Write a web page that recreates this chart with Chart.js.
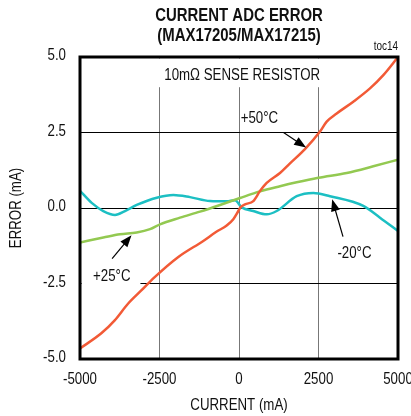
<!DOCTYPE html>
<html>
<head>
<meta charset="utf-8">
<script src="https://cdn.jsdelivr.net/npm/chart.js@4.4.0/dist/chart.umd.min.js"></script>
<style>
  html, body { margin: 0; padding: 0; background: #fff; }
  #wrap { width: 411px; height: 416px; }
</style>
</head>
<body>
<div id="wrap"><canvas id="adc-error" width="411" height="416"></canvas></div>
<script>
// data
const xTicks = [-5000, -2500, 0, 2500, 5000];
const yTicks = [-5.0, -2.5, 0.0, 2.5, 5.0];

// +50°C
const hotX = [-5000, -4330, -3909, -3491, -3072, -2651, -1918, -1123, -701, -387, -179, -22, 53, 189, 450, 660, 871, 1289, 1604, 2075, 2547, 2758, 3072, 3594, 4119, 4538, 5000];
const hotY = [-4.65, -4.15, -3.72, -3.17, -2.73, -2.29, -1.63, -1.09, -0.78, -0.58, -0.37, -0.1, 0.03, 0.12, 0.23, 0.56, 0.83, 1.16, 1.48, 1.95, 2.53, 2.86, 3.13, 3.52, 3.96, 4.4, 5.0];
// +25°C
const roomX = [-5000, -4267, -3742, -3217, -2799, -2484, -1855, -1226, -597, 31, 660, 1289, 1814, 2494, 3387, 4223, 5000];
const roomY = [-1.14, -0.98, -0.87, -0.81, -0.7, -0.54, -0.32, -0.12, 0.1, 0.33, 0.55, 0.72, 0.85, 1.0, 1.16, 1.38, 1.6];
// -20°C
const coldX = [-5000, -4633, -4267, -3899, -3585, -3217, -2587, -2063, -1541, -912, -387, -126, 85, 450, 871, 1185, 1814, 2338, 2862, 3909, 4434, 5000];
const coldY = [0.57, 0.17, -0.1, -0.23, -0.1, 0.1, 0.34, 0.43, 0.36, 0.23, 0.22, 0.26, 0.02, -0.1, -0.21, -0.1, 0.39, 0.5, 0.39, 0.07, -0.32, -0.76];

function pts(xs, ys) {
  return xs.map(function (x, i) { return { x: x, y: ys[i] }; });
}

// no narrow face installed, so squeeze Liberation Sans by hand
const FONT = '"Liberation Sans", Arial, sans-serif';
const SQUEEZE = 0.83;
Chart.defaults.font.family = FONT;
Chart.defaults.font.size = 16;
Chart.defaults.color = "#111";

// labels + arrows, positions in data units
const notes = [
  { text: "+50°C", at: [640, 2.95], from: [1400, 2.5], to: [2110, 2.0] },
  { text: "+25°C", at: [-4000, -2.27], from: [-3990, -1.68], to: [-3380, -0.9] },
  { text: "-20°C", at: [3630, -1.5], from: [3270, -0.95], to: [2930, 0.29] }
];

function narrow(ctx, text, x, y) {
  ctx.save();
  ctx.translate(x, y);
  ctx.scale(SQUEEZE, 1);
  ctx.fillText(text, 0, 0);
  ctx.restore();
}

function arrow(ctx, x1, y1, x2, y2) {
  const a = Math.atan2(y2 - y1, x2 - x1);
  ctx.beginPath();
  ctx.moveTo(x1, y1);
  ctx.lineTo(x2 - 6 * Math.cos(a), y2 - 6 * Math.sin(a));
  ctx.stroke();
  ctx.beginPath();
  ctx.moveTo(x2, y2);
  ctx.lineTo(x2 - 12 * Math.cos(a) + 4.5 * Math.sin(a), y2 - 12 * Math.sin(a) - 4.5 * Math.cos(a));
  ctx.lineTo(x2 - 12 * Math.cos(a) - 4.5 * Math.sin(a), y2 - 12 * Math.sin(a) + 4.5 * Math.cos(a));
  ctx.closePath();
  ctx.fill();
}

const decor = {
  id: "decor",
  beforeDatasetsDraw(chart) {
    const ctx = chart.ctx, xs = chart.scales.x, ys = chart.scales.y;
    ctx.save();
    ctx.fillStyle = "#fff";
    // white boxes behind the notes that break the grid
    ctx.fillRect(xs.getPixelForValue(-2800), ys.getPixelForValue(4.95), xs.getPixelForValue(2900) - xs.getPixelForValue(-2800), ys.getPixelForValue(4.0) - ys.getPixelForValue(4.95));
    ctx.fillRect(xs.getPixelForValue(-4950), ys.getPixelForValue(-1.7), xs.getPixelForValue(-3100) - xs.getPixelForValue(-4950), ys.getPixelForValue(-2.9) - ys.getPixelForValue(-1.7));
    ctx.restore();
  },
  afterDatasetsDraw(chart) {
    const ctx = chart.ctx, xs = chart.scales.x, ys = chart.scales.y, a = chart.chartArea;
    ctx.save();
    ctx.strokeStyle = "#000";
    ctx.lineWidth = 3;
    ctx.strokeRect(a.left, a.top, a.right - a.left, a.bottom - a.top);

    ctx.fillStyle = "#111";
    ctx.textAlign = "center";
    ctx.textBaseline = "middle";
    ctx.font = "16px " + FONT;
    narrow(ctx, "10mΩ SENSE RESISTOR", xs.getPixelForValue(100), ys.getPixelForValue(4.4));

    // tick labels
    xTicks.forEach(function (v) {
      narrow(ctx, String(v), xs.getPixelForValue(v), a.bottom + 21);
    });
    ctx.textAlign = "right";
    yTicks.forEach(function (v) {
      narrow(ctx, v.toFixed(1), a.left - 14, ys.getPixelForValue(v) - 1);
    });
    ctx.textAlign = "center";

    ctx.lineWidth = 1.2;
    ctx.strokeStyle = "#000";
    ctx.fillStyle = "#000";
    notes.forEach(function (n) {
      ctx.fillStyle = "#111";
      narrow(ctx, n.text, xs.getPixelForValue(n.at[0]), ys.getPixelForValue(n.at[1]));
      ctx.fillStyle = "#000";
      arrow(ctx, xs.getPixelForValue(n.from[0]), ys.getPixelForValue(n.from[1]), xs.getPixelForValue(n.to[0]), ys.getPixelForValue(n.to[1]));
    });

    // titles
    ctx.fillStyle = "#111";
    ctx.font = "bold 18px " + FONT;
    narrow(ctx, "CURRENT ADC ERROR", 239, 16);
    narrow(ctx, "(MAX17205/MAX17215)", 239, 36);
    ctx.font = "12px " + FONT;
    ctx.textAlign = "right";
    narrow(ctx, "toc14", a.right, 47);
    ctx.textAlign = "center";
    ctx.font = "16px " + FONT;
    narrow(ctx, "CURRENT (mA)", (a.left + a.right) / 2, 406);
    ctx.translate(17, (a.top + a.bottom) / 2);
    ctx.rotate(-Math.PI / 2);
    narrow(ctx, "ERROR (mA)", 0, 0);
    ctx.restore();
  }
};

const ctx = document.getElementById("adc-error").getContext("2d");
new Chart(ctx, {
  type: "line",
  data: {
    datasets: [
      {
        label: "+50°C",
        data: pts(hotX, hotY),
        borderColor: "#f25a36",
        borderWidth: 2.5,
        pointRadius: 0,
        cubicInterpolationMode: "monotone",
      },
      {
        label: "+25°C",
        data: pts(roomX, roomY),
        borderColor: "#93c951",
        borderWidth: 2.5,
        pointRadius: 0,
        cubicInterpolationMode: "monotone",
      },
      {
        label: "-20°C",
        data: pts(coldX, coldY),
        borderColor: "#1cbfc3",
        borderWidth: 2.5,
        pointRadius: 0,
        cubicInterpolationMode: "monotone",
      },
    ],
  },
  options: {
    responsive: false,
    animation: false,
    layout: { padding: { top: 57, right: 13, left: 0, bottom: 0 } },
    plugins: { legend: { display: false }, tooltip: { enabled: false } },
    scales: {
      x: {
        type: "linear",
        min: -5000,
        max: 5000,
        afterBuildTicks: function (axis) { axis.ticks = xTicks.map(function (v) { return { value: v }; }); },
        afterFit: function (axis) { axis.height = 57; axis.paddingLeft = 0; axis.paddingRight = 0; },
        ticks: { display: false },
        grid: { color: "#777", lineWidth: 1, drawTicks: false },
        border: { display: false },
      },
      y: {
        min: -5,
        max: 5,
        afterBuildTicks: function (axis) { axis.ticks = yTicks.map(function (v) { return { value: v }; }); },
        afterFit: function (axis) { axis.width = 80; axis.paddingTop = 0; axis.paddingBottom = 0; },
        ticks: { display: false },
        grid: { color: "#000", lineWidth: 1, drawTicks: false },
        border: { display: false },
      },
    },
  },
  plugins: [decor],
});
</script>
</body>
</html>
